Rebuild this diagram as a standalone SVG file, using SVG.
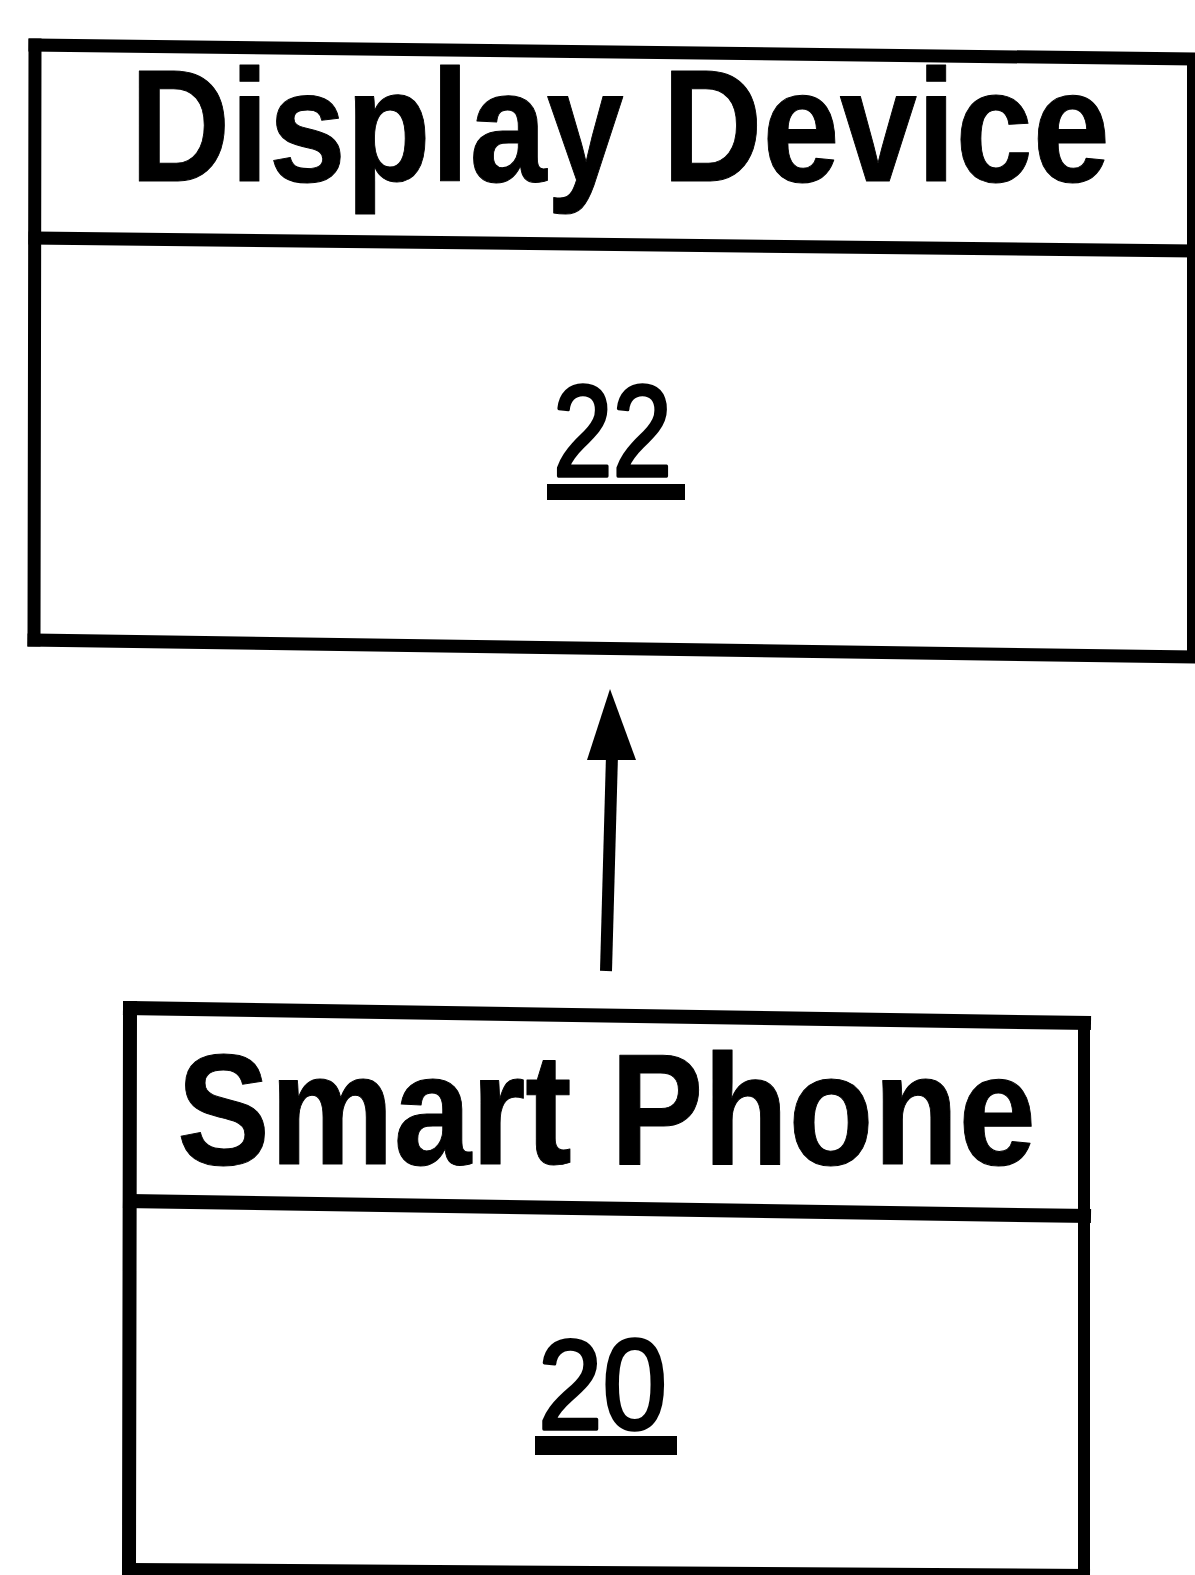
<svg xmlns="http://www.w3.org/2000/svg" width="1195" height="1575" viewBox="0 0 1195 1575">
<style>
.b{stroke:#000;fill:none;stroke-linecap:square}
.t{font-family:"Liberation Sans",Arial,sans-serif;fill:#000;stroke:#000;stroke-linejoin:round}
.h{font-weight:bold;stroke-width:1}
.n{stroke-width:3.5}
</style>
<rect width="1195" height="1575" fill="#fff"/>
<g id="display-device">
<line class="b" x1="35" y1="45" x2="1192" y2="59" stroke-width="13"/>
<line class="b" x1="35" y1="45" x2="34" y2="640" stroke-width="13"/>
<line class="b" x1="35" y1="238" x2="1192" y2="251" stroke-width="13"/>
<line class="b" x1="34" y1="640" x2="1192" y2="657" stroke-width="13"/>
<line class="b" x1="1191" y1="59" x2="1191" y2="657" stroke-width="8"/>
<text class="t h" x="130" y="181" font-size="160" textLength="980" lengthAdjust="spacingAndGlyphs">Display Device</text>
<text class="t n" x="553" y="476" font-size="130" textLength="119" lengthAdjust="spacingAndGlyphs">22</text>
<rect x="547" y="484" width="138" height="16" fill="#000"/>
</g>
<g id="connectors">
<polygon points="610,689 587,760 636,760" fill="#000"/>
<line x1="612" y1="755" x2="606" y2="971" stroke="#000" stroke-width="12"/>
</g>
<g id="smart-phone">
<line class="b" x1="130" y1="1008" x2="1084" y2="1023" stroke-width="14"/>
<line class="b" x1="130" y1="1008" x2="129" y2="1569" stroke-width="14"/>
<line class="b" x1="130" y1="1201" x2="1084" y2="1216" stroke-width="14"/>
<line class="b" x1="129" y1="1569" x2="1084" y2="1575" stroke-width="12"/>
<line class="b" x1="1084" y1="1023" x2="1084" y2="1575" stroke-width="12"/>
<text class="t h" x="177" y="1164" font-size="158" textLength="859" lengthAdjust="spacingAndGlyphs">Smart Phone</text>
<text class="t n" x="538" y="1429" font-size="128" textLength="129" lengthAdjust="spacingAndGlyphs">20</text>
<rect x="535" y="1436" width="142" height="19" fill="#000"/>
</g>
</svg>
